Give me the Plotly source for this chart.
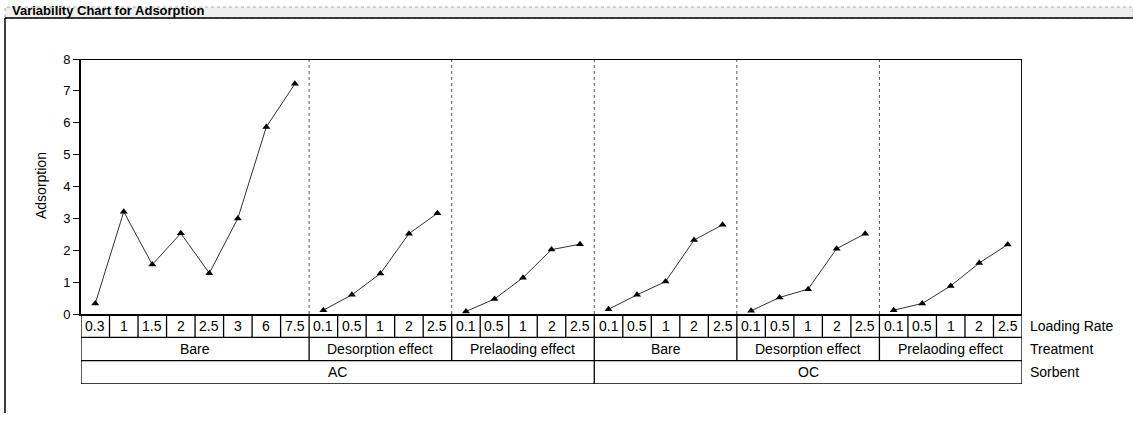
import plotly.graph_objects as go

# data
sorbents = ["AC", "OC"]
treatments = ["Bare", "Desorption effect", "Prelaoding effect"]

rates_ac_bare = ["0.3", "1", "1.5", "2", "2.5", "3", "6", "7.5"]
rates_other = ["0.1", "0.5", "1", "2", "2.5"]

ac_bare = [0.33, 3.21, 1.55, 2.53, 1.28, 3.0, 5.87, 7.22]
ac_desorption = [0.12, 0.6, 1.27, 2.52, 3.16]
ac_preloading = [0.08, 0.47, 1.14, 2.02, 2.19]
oc_bare = [0.15, 0.6, 1.02, 2.32, 2.8]
oc_desorption = [0.1, 0.52, 0.78, 2.05, 2.52]
oc_preloading = [0.12, 0.33, 0.88, 1.6, 2.18]

groups = [
    ("AC", "Bare", rates_ac_bare, ac_bare),
    ("AC", "Desorption effect", rates_other, ac_desorption),
    ("AC", "Prelaoding effect", rates_other, ac_preloading),
    ("OC", "Bare", rates_other, oc_bare),
    ("OC", "Desorption effect", rates_other, oc_desorption),
    ("OC", "Prelaoding effect", rates_other, oc_preloading),
]

FONT = "Liberation Sans, Arial, sans-serif"
W, H = 1133, 421

fig = go.Figure()
shapes = []
annotations = []

def px_x(v):
    return v / W

# the captured page comes out squeezed into rows ~7..413, so map target rows onto that
def px_y(v):
    return min(1, max(0, 1 - (v - 7) / 406))

# one cell per loading rate along x
pos = 0
group_spans = []
for sorb, treat, rates, vals in groups:
    xs = list(range(pos, pos + len(rates)))
    fig.add_trace(go.Scatter(
        x=xs, y=vals, mode="lines+markers",
        line=dict(color="#333333", width=1),
        marker=dict(symbol="triangle-up", size=7, color="black"),
        showlegend=False, hoverinfo="y"))
    group_spans.append((sorb, treat, rates, pos, pos + len(rates)))
    pos += len(rates)
n_cells = pos

# invisible trace so the table axis exists
fig.add_trace(go.Scatter(x=[0], y=[0], yaxis="y2", mode="markers",
                         marker=dict(opacity=0), showlegend=False, hoverinfo="skip"))

line_black = dict(color="black", width=1.3)

# dotted separators between treatment groups
for sorb, treat, rates, a, b in group_spans[1:]:
    shapes.append(dict(type="line", xref="x", yref="y", x0=a - 0.5, x1=a - 0.5, y0=0, y1=8,
                       line=dict(color="#555555", width=1, dash="dot")))

# table rows: Loading Rate (2-3), Treatment (1-2), Sorbent (0-1)
tfont = dict(family=FONT, size=14, color="black")
for sorb, treat, rates, a, b in group_spans:
    for i, r in enumerate(rates):
        x = a + i
        shapes.append(dict(type="line", xref="x", yref="y2", x0=x - 0.5, x1=x - 0.5,
                           y0=2, y1=3, line=line_black))
        annotations.append(dict(xref="x", yref="y2", x=x, y=2.5, text=r, showarrow=False,
                                font=tfont))
    shapes.append(dict(type="line", xref="x", yref="y2", x0=a - 0.5, x1=a - 0.5,
                       y0=1, y1=2, line=line_black))
    annotations.append(dict(xref="x", yref="y2", x=(a + b - 1) / 2, y=1.5, text=treat,
                            showarrow=False, font=tfont))

s_pos = 0
for s in sorbents:
    cnt = sum(b - a for so, t, r, a, b in group_spans if so == s)
    shapes.append(dict(type="line", xref="x", yref="y2", x0=s_pos - 0.5, x1=s_pos - 0.5,
                       y0=0, y1=1, line=line_black))
    annotations.append(dict(xref="x", yref="y2", x=s_pos + (cnt - 1) / 2, y=0.5, text=s,
                            showarrow=False, font=tfont))
    s_pos += cnt

xr = [-0.5, n_cells - 0.5]
for yv in [0, 1, 2]:
    shapes.append(dict(type="line", xref="x", yref="y2", x0=xr[0], x1=xr[1], y0=yv, y1=yv,
                       line=line_black))
shapes.append(dict(type="line", xref="x", yref="y2", x0=xr[1], x1=xr[1], y0=0, y1=3,
                   line=line_black))

# plot frame top/right
shapes.append(dict(type="line", xref="x", yref="y", x0=xr[0], x1=xr[1], y0=8, y1=8,
                   line=dict(color="black", width=1.8)))
shapes.append(dict(type="line", xref="x", yref="y", x0=xr[1], x1=xr[1], y0=0, y1=8,
                   line=dict(color="black", width=1.8)))

rfont = dict(family=FONT, size=14, color="black")
for lab, yv in [("Loading Rate", 2.5), ("Treatment", 1.5), ("Sorbent", 0.5)]:
    annotations.append(dict(xref="paper", yref="y2", x=px_x(1028), y=yv, text=lab,
                            showarrow=False, xanchor="left", font=rfont))

# title bar and outer frame
shapes.append(dict(type="rect", xref="paper", yref="paper", x0=px_x(5), x1=1,
                   y0=px_y(18), y1=1, fillcolor="#efefef",
                   line=dict(color="#b0b0b0", width=1, dash="dot"), layer="below"))
shapes.append(dict(type="line", xref="paper", yref="paper", x0=px_x(5), x1=1,
                   y0=px_y(18), y1=px_y(18), line=dict(color="black", width=1.5)))
shapes.append(dict(type="line", xref="paper", yref="paper", x0=px_x(5), x1=px_x(5),
                   y0=0, y1=px_y(18), line=dict(color="black", width=1.5)))

annotations.append(dict(xref="paper", yref="paper", x=px_x(10), y=px_y(11),
                        text="<b>Variability Chart for Adsorption</b>", showarrow=False,
                        xanchor="left", yanchor="middle",
                        font=dict(family=FONT, size=13, color="black")))
annotations.append(dict(xref="paper", yref="paper", x=px_x(31), y=px_y(186),
                        text="Adsorption", showarrow=False, textangle=-90,
                        font=dict(family=FONT, size=14, color="black")))

fig.update_layout(
    width=W, height=H,
    margin=dict(l=0, r=0, t=0, b=0),
    paper_bgcolor="white", plot_bgcolor="white",
    font=dict(family=FONT, size=13, color="black"),
    xaxis=dict(domain=[px_x(81), px_x(1022)], range=xr, showticklabels=False,
               ticks="", showgrid=False, zeroline=False, showline=True,
               linecolor="black", linewidth=1.8, anchor="y"),
    yaxis=dict(domain=[px_y(314), px_y(59)], range=[0, 8], dtick=1, ticks="outside",
               ticklen=6, tickcolor="black", tickwidth=1.3, showgrid=False, zeroline=False,
               showline=True, linecolor="black", linewidth=1.8,
               tickfont=dict(family=FONT, size=13)),
    yaxis2=dict(domain=[px_y(384), px_y(314)], range=[0, 3], visible=False,
                anchor="x", fixedrange=True),
    shapes=shapes, annotations=annotations,
)

fig.write_html("out.html", config={"displayModeBar": False},
               post_script="document.body.style.margin='0';"
                           "document.body.style.overflow='hidden';")
